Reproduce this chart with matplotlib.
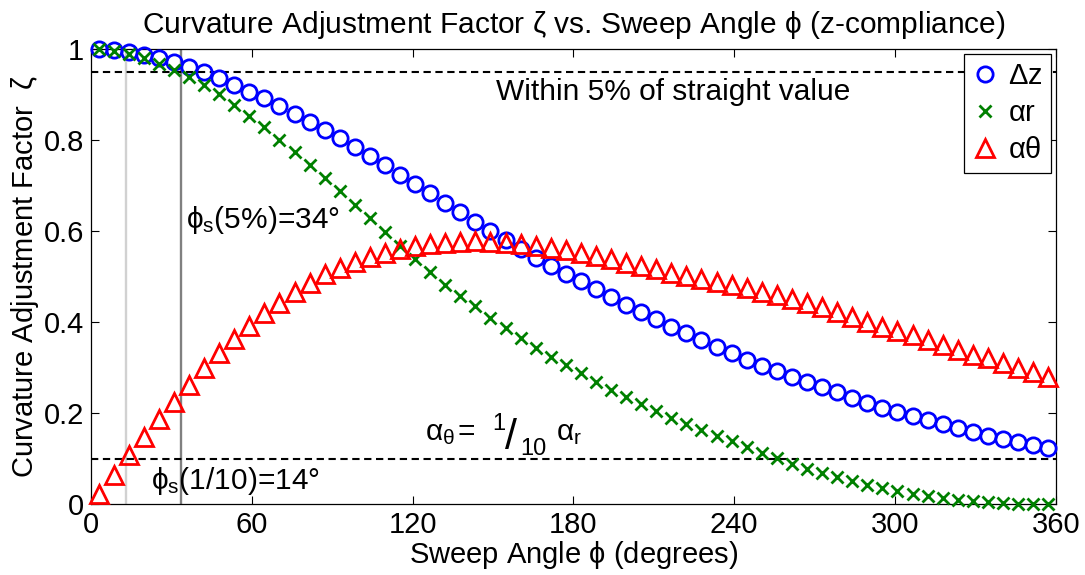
import numpy as np
import matplotlib
matplotlib.use("Agg")
from matplotlib import pyplot as plt

plt.rcParams['font.family'] = ['Liberation Sans', 'DejaVu Sans']
plt.rcParams['mathtext.fontset'] = 'custom'
plt.rcParams['mathtext.rm'] = 'Liberation Sans'
plt.rcParams['mathtext.it'] = 'Liberation Sans'
plt.rcParams['mathtext.bf'] = 'Liberation Sans:bold'

# sweep angle samples (64 points, bin centres over 0..360 deg)
sweep = (np.arange(64) + 0.5) * 360.0 / 64

delta_z = [1.000, 0.998, 0.994, 0.988, 0.981, 0.973, 0.962, 0.950,
           0.936, 0.922, 0.907, 0.892, 0.875, 0.858, 0.840, 0.823,
           0.805, 0.785, 0.765, 0.746, 0.724, 0.703, 0.683, 0.663,
           0.642, 0.621, 0.600, 0.580, 0.561, 0.542, 0.524, 0.506,
           0.490, 0.472, 0.455, 0.438, 0.422, 0.406, 0.390, 0.375,
           0.360, 0.345, 0.331, 0.317, 0.304, 0.292, 0.280, 0.269,
           0.258, 0.246, 0.234, 0.223, 0.212, 0.202, 0.193, 0.184,
           0.175, 0.167, 0.158, 0.150, 0.143, 0.136, 0.129, 0.123]

alpha_r = [1.000, 0.996, 0.990, 0.980, 0.968, 0.955, 0.940, 0.921,
           0.901, 0.878, 0.853, 0.828, 0.801, 0.774, 0.745, 0.716,
           0.688, 0.658, 0.628, 0.598, 0.568, 0.538, 0.510, 0.482,
           0.458, 0.435, 0.410, 0.387, 0.364, 0.343, 0.323, 0.305,
           0.287, 0.268, 0.251, 0.235, 0.219, 0.204, 0.190, 0.176,
           0.162, 0.150, 0.138, 0.125, 0.113, 0.101, 0.089, 0.078,
           0.068, 0.059, 0.050, 0.042, 0.035, 0.029, 0.023, 0.018,
           0.013, 0.009, 0.006, 0.004, 0.002, 0.001, 0.000, 0.000]

alpha_theta = [0.022, 0.064, 0.107, 0.148, 0.188, 0.225, 0.262, 0.298,
               0.331, 0.362, 0.392, 0.419, 0.443, 0.466, 0.487, 0.505,
               0.520, 0.533, 0.544, 0.553, 0.561, 0.567, 0.572, 0.575,
               0.577, 0.578, 0.577, 0.575, 0.572, 0.568, 0.563, 0.558,
               0.552, 0.545, 0.538, 0.531, 0.523, 0.516, 0.509, 0.502,
               0.495, 0.488, 0.481, 0.474, 0.466, 0.459, 0.451, 0.442,
               0.433, 0.422, 0.411, 0.400, 0.390, 0.381, 0.371, 0.361,
               0.350, 0.339, 0.328, 0.320, 0.310, 0.299, 0.290, 0.279]

straight_limit = 0.95
ratio_limit = 0.1
phi_s_ratio = 13.2   # where alpha_theta reaches 1/10 alpha_r
phi_s_5pct = 33.6    # where alpha_r drops 5%

xticks = [0, 60, 120, 180, 240, 300, 360]
yticks = [0, 0.2, 0.4, 0.6, 0.8, 1]
yticklabels = ['0', '0.2', '0.4', '0.6', '0.8', '1']

fs = 21
fs_note = 21.5

fig = plt.figure(figsize=(10.85, 5.75), dpi=100)
ax = fig.add_axes([0.0839, 0.1235, 0.8891, 0.7908])

ax.axvline(phi_s_ratio, color=(0.82, 0.82, 0.82), lw=1.7, zorder=1)
ax.axvline(phi_s_5pct, color=(0.5, 0.5, 0.5), lw=1.7, zorder=1)
ax.axhline(straight_limit, color='k', ls=(0, (3.5, 2.2)), lw=1.5, zorder=1)
ax.axhline(ratio_limit, color='k', ls=(0, (3.5, 2.2)), lw=1.5, zorder=1)

ax.plot(sweep, delta_z, ls='none', marker='o', ms=11, mfc='none',
        mec=(0, 0, 1), mew=2.0, label=r'$\Delta$z', clip_on=False, zorder=3)
ax.plot(sweep, alpha_r, ls='none', marker='x', ms=9, mfc='none',
        mec=(0, 0.5, 0), mew=2.0, label=r'$\alpha$r', clip_on=False, zorder=3)
ax.plot(sweep, alpha_theta, ls='none', marker='^', ms=13, mfc='none',
        mec=(1, 0, 0), mew=2.0, label=r'$\alpha\theta$', clip_on=False, zorder=3)

ax.text(151, 0.905, 'Within 5% of straight value', fontsize=fs_note, va='center')
ax.text(35.3, 0.625, r'$\phi_\mathrm{s}$(5%)=34°', fontsize=fs_note, va='center')
ax.text(22.5, 0.05, r'$\phi_\mathrm{s}$(1/10)=14°', fontsize=fs_note, va='center')

# alpha_theta = 1/10 alpha_r, built piece by piece (big raised 1, big slash, lowered 10)
pieces = [(r'$\alpha_\theta$', 0, 0, fs_note),
          ('=', 33, 0, fs_note),
          ('1', 67, 10, 17),
          ('/', 80, -9, 31),
          ('10', 95, -15, 17),
          (r'$\alpha_\mathrm{r}$', 131, 0, fs_note)]
for s, dx, dy, size in pieces:
    ax.annotate(s, xy=(124.6, 0.141), xytext=(dx, dy), textcoords='offset pixels',
                fontsize=size, ha='left', va='baseline')

ax.set_xlim(0, 360)
ax.set_ylim(0, 1)
ax.set_xticks(xticks)
ax.set_yticks(yticks)
ax.set_yticklabels(yticklabels)
ax.tick_params(direction='in', length=6, width=0.8, top=True, right=True,
               labelsize=fs, pad=5)
for sp in ax.spines.values():
    sp.set_linewidth(0.9)

ax.set_xlabel(r'Sweep Angle $\phi$ (degrees)', fontsize=fs, labelpad=0)
ax.set_ylabel(r'Curvature Adjustment Factor  $\zeta$', fontsize=fs, labelpad=2)
ax.set_title(r'Curvature Adjustment Factor $\zeta$ vs. Sweep Angle $\phi$ (z-compliance)',
             fontsize=fs_note, pad=12)

leg = ax.legend(loc='upper right', fontsize=fs, handlelength=0.8, handletextpad=0.4,
                labelspacing=0.3, borderpad=0.3, borderaxespad=0.15,
                fancybox=False, framealpha=1, edgecolor='k')
leg.get_frame().set_linewidth(0.9)
leg.set_zorder(5)

fig.savefig('out.png', dpi=100)
